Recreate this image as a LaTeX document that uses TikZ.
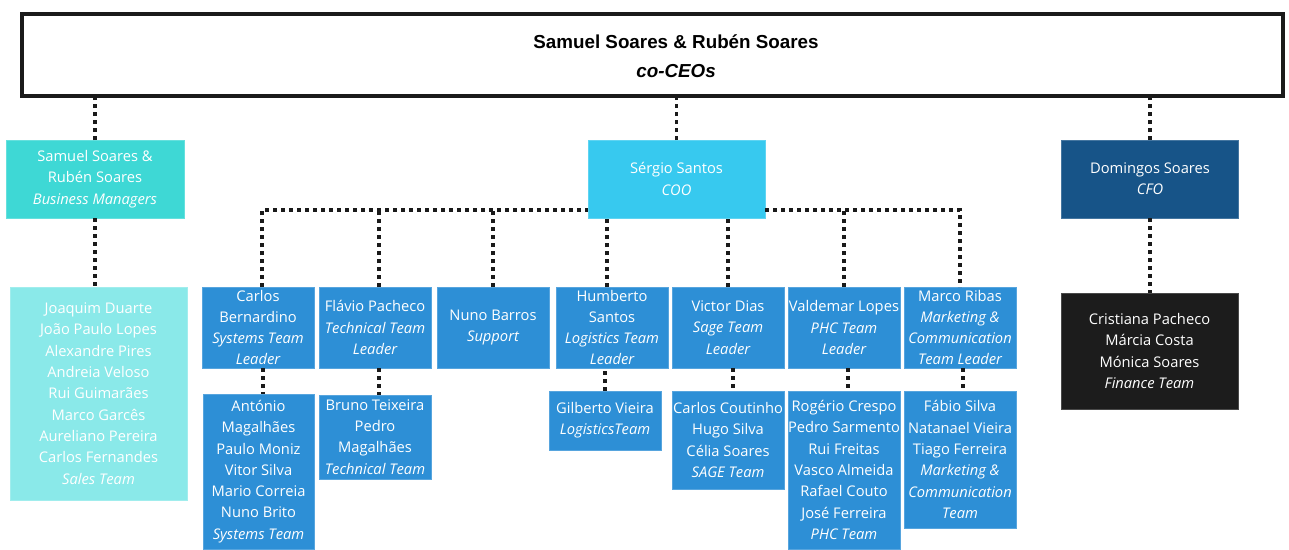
\documentclass[tikz,border=0pt]{standalone}
\usepackage{fontspec}
\setmainfont{Open Sans}
\newfontfamily\topfont{Liberation Sans}
\usetikzlibrary{calc}
\definecolor{salesc}{HTML}{8AE9E9}
\definecolor{bmc}{HTML}{3ED8D5}
\definecolor{cooc}{HTML}{37C9EF}
\definecolor{bluec}{HTML}{2D8FD6}
\definecolor{cfoc}{HTML}{175488}
\definecolor{finc}{HTML}{1C1C1C}
\definecolor{linec}{HTML}{1A1A1A}
\tikzset{
  bx/.style={rectangle, inner sep=0pt, outer sep=0pt, align=center, text=white,
    font=\fontsize{14.7}{21.3}\selectfont, draw=#1!80!white, line width=0.6pt, fill=#1},
  conn/.style={draw=linec, line width=3.3pt, dash pattern=on 4pt off 4pt},
}
\begin{document}
\begin{tikzpicture}[x=1pt,y=-1pt]
\useasboundingbox (0,0) rectangle (1289,549);
% top box
\node[draw=linec, line width=4pt, minimum width=1261pt, minimum height=82pt, inner sep=0pt] (ceo) at (652.5,55) {};
\node[align=center, font=\topfont\fontsize{18.8}{29}\selectfont\bfseries, inner sep=0pt] (ceotext) at (676,56) {Samuel Soares \& Rubén Soares\\\itshape co-CEOs};
% level 1
\node[bx=bmc, minimum width=178pt, minimum height=78pt] (bm) at (95,179) {Samuel Soares \&\\Rubén Soares\\\itshape Business Managers};
\node[bx=cooc, minimum width=177pt, minimum height=78pt] (coo) at (676.5,179) {Sérgio Santos\\\itshape COO};
\node[bx=cfoc, minimum width=177pt, minimum height=78pt] (cfo) at (1150,179) {Domingos Soares\\\itshape CFO};
% below level 1
\node[bx=salesc, minimum width=177pt, minimum height=213pt] (sales) at (98.5,393.5) {Joaquim Duarte\\João Paulo Lopes\\Alexandre Pires\\Andreia Veloso\\Rui Guimarães\\Marco Garcês\\Aureliano Pereira\\Carlos Fernandes\\\itshape Sales Team};
\node[bx=finc, minimum width=177pt, minimum height=116pt] (fin) at (1149.5,351) {Cristiana Pacheco\\Márcia Costa\\Mónica Soares\\\itshape Finance Team};
% level 2
\node[bx=bluec, minimum width=112pt, minimum height=81pt] (carlos) at (258,327.5) {Carlos\\Bernardino\\\itshape Systems Team\\\itshape Leader};
\node[bx=bluec, minimum width=112pt, minimum height=81pt] (flavio) at (375,327.5) {Flávio Pacheco\\\itshape Technical Team\\\itshape Leader};
\node[bx=bluec, minimum width=112pt, minimum height=81pt] (nuno) at (493,327.5) {Nuno Barros\\\itshape Support};
\node[bx=bluec, minimum width=112pt, minimum height=81pt] (humb) at (612,327.5) {Humberto\\Santos\\\itshape Logistics Team\\\itshape Leader};
\node[bx=bluec, minimum width=112pt, minimum height=81pt] (victor) at (728,327.5) {Victor Dias\\\itshape Sage Team\\\itshape Leader};
\node[bx=bluec, minimum width=112pt, minimum height=81pt] (vald) at (844,327.5) {Valdemar Lopes\\\itshape PHC Team\\\itshape Leader};
\node[bx=bluec, minimum width=112pt, minimum height=81pt] (marco) at (960,327.5) {Marco Ribas\\\itshape Marketing \&\\\itshape Communication\\\itshape Team Leader};
% level 3
\node[bx=bluec, minimum width=111pt, minimum height=155pt] (sys) at (258.5,471.5) {António\\Magalhães\\Paulo Moniz\\Vitor Silva\\Mario Correia\\Nuno Brito\\\itshape Systems Team};
\node[bx=bluec, minimum width=112pt, minimum height=84pt] (tech) at (375,437) {Bruno Teixeira\\Pedro\\Magalhães\\\itshape Technical Team};
\node[bx=bluec, minimum width=112pt, minimum height=59pt] (log) at (605,420.5) {Gilberto Vieira\\\itshape LogisticsTeam};
\node[bx=bluec, minimum width=112pt, minimum height=98pt] (sage) at (728,440) {Carlos Coutinho\\Hugo Silva\\Célia Soares\\\itshape SAGE Team};
\node[bx=bluec, minimum width=112pt, minimum height=158pt] (phc) at (844,470) {Rogério Crespo\\Pedro Sarmento\\Rui Freitas\\Vasco Almeida\\Rafael Couto\\José Ferreira\\\itshape PHC Team};
\node[bx=bluec, minimum width=112pt, minimum height=137pt] (mkt) at (960,459.5) {Fábio Silva\\Natanael Vieira\\Tiago Ferreira\\\itshape Marketing \&\\\itshape Communication\\\itshape Team};
% connectors
\coordinate (busL) at ($(coo.south west)+(0,-8)$);
\coordinate (busR) at ($(coo.south east)+(0,-8)$);
\draw[conn] (bm.north) -- (bm.north |- ceo.south);
\draw[conn] (coo.north) -- (coo.north |- ceo.south);
\draw[conn] (cfo.north) -- (cfo.north |- ceo.south);
\draw[conn] (bm.south) -- (bm.south |- sales.north);
\draw[conn] (cfo.south) -- (cfo.south |- fin.north);
\draw[conn] ([xshift=4pt]carlos.north) |- (busL);
\draw[conn] ([xshift=4pt]flavio.north) -- ([xshift=4pt]flavio.north |- busL);
\draw[conn] (nuno.north) -- (nuno.north |- busL);
\draw[conn] ([xshift=-5pt]humb.north) -- ([xshift=-5pt]humb.north |- coo.south);
\draw[conn] (victor.north) -- (victor.north |- coo.south);
\draw[conn] (busR) -| (marco.north);
\draw[conn] (vald.north) -- (vald.north |- busR);
\draw[conn] ([xshift=5pt]carlos.south) -- ([xshift=5pt]carlos.south |- sys.north);
\draw[conn] ([xshift=4pt]flavio.south) -- ([xshift=4pt]flavio.south |- tech.north);
\draw[conn] (log.north) -- (log.north |- humb.south);
\draw[conn] ([xshift=5pt]victor.south) -- ([xshift=5pt]victor.south |- sage.north);
\draw[conn] ([xshift=4pt]vald.south) -- ([xshift=4pt]vald.south |- phc.north);
\draw[conn] ([xshift=3pt]marco.south) -- ([xshift=3pt]marco.south |- mkt.north);
\end{tikzpicture}
\end{document}
